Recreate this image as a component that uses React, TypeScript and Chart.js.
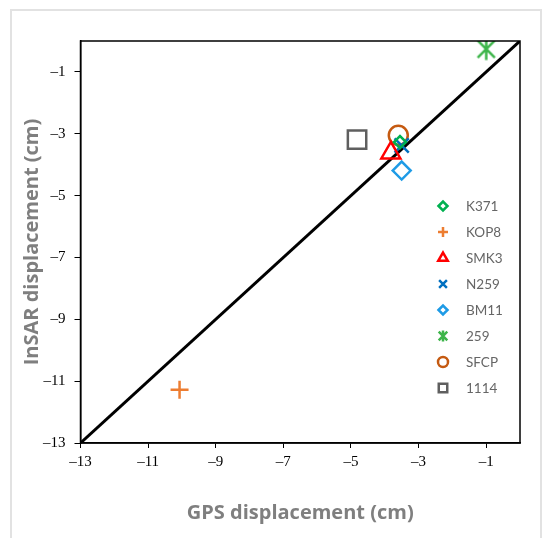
import React, { useEffect, useRef } from "react";
import { Chart, registerables } from "chart.js";
import { drawPoint } from "chart.js/helpers";

Chart.register(...registerables);

const stations = ["K371", "KOP8", "SMK3", "N259", "BM11", "259", "SFCP", "1114"];
const gpsValues = [-3.55, -10.07, -3.82, -3.5, -3.5, -1.0, -3.6, -4.82];
const insarValues = [-3.27, -11.28, -3.62, -3.38, -4.19, -0.26, -3.05, -3.19];
const markerStyles = ["rectRot", "cross", "triangle", "crossRot", "rectRot", "asterisk", "circle", "rect"];
const markerColors = ["#00b050", "#ed7d31", "#ff0000", "#0070c0", "#1e9be6", "#3db54a", "#c55a11", "#5f5f5f"];
const markerRadii = [6, 9, 11, 10, 9, 11, 9.5, 13];
const legendRadii = [4.5, 5, 5.5, 5.5, 4.5, 5.5, 5, 6];
const lineX = [-13, 0];
const lineY = [-13, 0];
const xTickValues = [-13, -11, -9, -7, -5, -3, -1];
const yTickValues = [-13, -11, -9, -7, -5, -3, -1];

const fmt = (v: number) => (v < 0 ? "\u2013" + Math.abs(v) : String(v));

function asteriskImage(radius: number, color: string, lw: number) {
  const s = Math.ceil(radius * 2 + lw * 2);
  const c = document.createElement("canvas");
  c.width = s;
  c.height = s;
  const g = c.getContext("2d")!;
  const m = s / 2;
  const d = radius * 0.78;
  g.strokeStyle = color;
  g.lineWidth = lw;
  g.beginPath();
  g.moveTo(m - d, m - d);
  g.lineTo(m + d, m + d);
  g.moveTo(m + d, m - d);
  g.lineTo(m - d, m + d);
  g.moveTo(m, m - radius);
  g.lineTo(m, m + radius);
  g.stroke();
  return c;
}

function styleFor(i: number, r: number) {
  if (markerStyles[i] === "asterisk") return asteriskImage(r, markerColors[i], 2.5);
  return markerStyles[i];
}

const framePlugin = {
  id: "frameBox",
  afterDraw(chart: any) {
    const { ctx, chartArea } = chart;
    ctx.save();
    ctx.strokeStyle = "#000";
    ctx.lineWidth = 1.5;
    ctx.strokeRect(chartArea.left, chartArea.top, chartArea.right - chartArea.left, chartArea.bottom - chartArea.top);
    ctx.restore();
  },
};

const legendPlugin = {
  id: "customLegend",
  afterDraw(chart: any) {
    const { ctx, chartArea } = chart;
    const mx = chartArea.right - 77;
    const tx = chartArea.right - 54;
    let y = chartArea.top + 165;
    ctx.save();
    ctx.font = "13.5px Lato, 'Open Sans', sans-serif";
    ctx.textBaseline = "middle";
    ctx.textAlign = "left";
    stations.forEach((name, i) => {
      ctx.save();
      ctx.strokeStyle = markerColors[i];
      ctx.fillStyle = "rgba(0,0,0,0)";
      ctx.lineWidth = 2.5;
      drawPoint(ctx, { pointStyle: styleFor(i, legendRadii[i]), radius: legendRadii[i], rotation: 0, borderWidth: 2.5 } as any, mx, y);
      ctx.restore();
      ctx.fillStyle = "#666666";
      ctx.fillText(name, tx, y + 1);
      y += 26;
    });
    ctx.restore();
  },
};

export default function App() {
  const ref = useRef<HTMLCanvasElement>(null);
  useEffect(() => {
    if (!ref.current) return;
    const datasets: any[] = stations.map((name, i) => ({
      type: "scatter",
      label: name,
      data: [{ x: gpsValues[i], y: insarValues[i] }],
      pointStyle: styleFor(i, markerRadii[i]),
      pointRadius: markerRadii[i],
      pointBorderWidth: 2.5,
      borderColor: markerColors[i],
      backgroundColor: "rgba(0,0,0,0)",
      pointBackgroundColor: "rgba(0,0,0,0)",
      pointBorderColor: markerColors[i],
      order: 0,
    }));
    datasets.push({
      type: "scatter",
      label: "1:1",
      data: lineX.map((x, i) => ({ x, y: lineY[i] })),
      showLine: true,
      borderColor: "#000",
      borderWidth: 3,
      pointRadius: 0,
      order: 1,
    });
    const chart = new Chart(ref.current, {
      type: "scatter",
      data: { datasets },
      options: {
        animation: false,
        responsive: false,
        layout: { padding: { left: 20, top: 41, right: 30, bottom: 22 } },
        plugins: { legend: { display: false }, tooltip: { enabled: false } },
        scales: {
          x: {
            type: "linear",
            min: -13,
            max: 0,
            afterBuildTicks: (s: any) => {
              s.ticks = xTickValues.map((v) => ({ value: v }));
            },
            ticks: {
              callback: (v: any) => fmt(Number(v)),
              color: "#000",
              font: { family: "'Liberation Serif', serif", size: 15 },
              padding: 5,
              maxRotation: 0,
              autoSkip: false,
            },
            grid: { drawOnChartArea: false, drawTicks: true, tickLength: 5, tickColor: "#000", tickWidth: 1 },
            border: { display: true, color: "#000", width: 1.5 },
            title: {
              display: true,
              text: "GPS displacement (cm)",
              color: "#7f7f7f",
              font: { family: "'Open Sans', sans-serif", size: 20, weight: "bold" },
              padding: { top: 25, bottom: 0 },
            },
          },
          y: {
            type: "linear",
            min: -13,
            max: 0,
            afterBuildTicks: (s: any) => {
              s.ticks = yTickValues.map((v) => ({ value: v }));
            },
            ticks: {
              callback: (v: any) => fmt(Number(v)),
              color: "#000",
              font: { family: "'Liberation Serif', serif", size: 15 },
              padding: 9,
              autoSkip: false,
            },
            grid: { drawOnChartArea: false, drawTicks: true, tickLength: 6, tickColor: "#000", tickWidth: 1 },
            border: { display: true, color: "#000", width: 1.5 },
            title: {
              display: true,
              text: "InSAR displacement (cm)",
              color: "#7f7f7f",
              font: { family: "'Open Sans', sans-serif", size: 20, weight: "bold" },
              padding: { top: 0, bottom: -10 },
            },
          },
        },
      },
      plugins: [framePlugin, legendPlugin],
    } as any);
    return () => chart.destroy();
  }, []);
  return (
    <div style={{ position: "fixed", left: 0, top: 0, width: 550, height: 547, background: "#fff" }}>
      <div
        style={{
          position: "absolute",
          left: 10,
          top: 9,
          width: 528,
          height: 527,
          borderTop: "2px solid #e2e2e2",
          borderLeft: "2px solid #e2e2e2",
          borderRight: "2px solid #e2e2e2",
        }}
      />
      <canvas ref={ref} width={550} height={547} style={{ position: "absolute", left: 0, top: 0, width: 550, height: 547 }} />
    </div>
  );
}
